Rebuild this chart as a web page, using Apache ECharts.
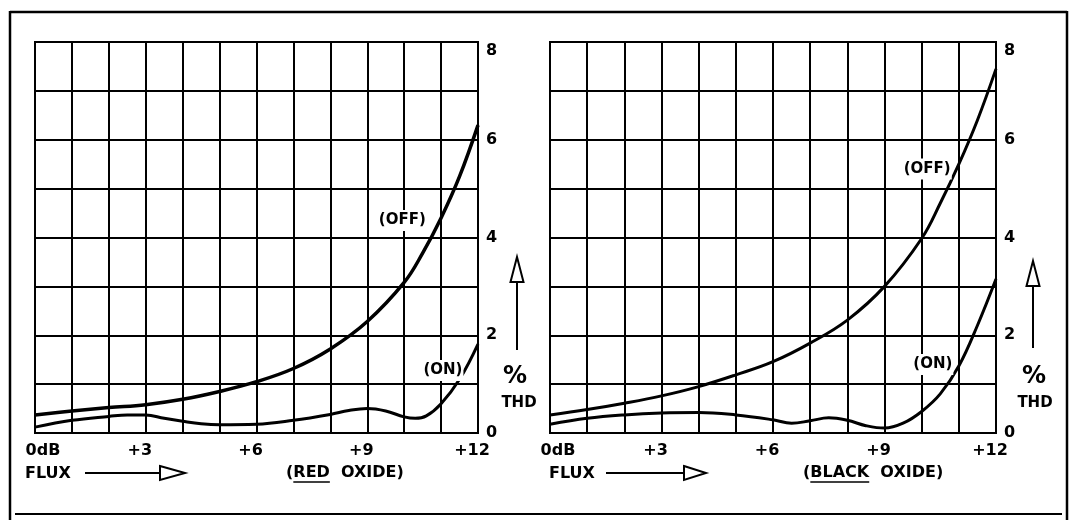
<!DOCTYPE html>
<html>
<head>
<meta charset="utf-8">
<title>% THD vs flux</title>
<script src="https://cdn.jsdelivr.net/npm/echarts@6/dist/echarts.min.js"></script>
<style>
  html, body { margin: 0; padding: 0; background: #fff; }
  #chart { width: 1074px; height: 520px; }
</style>
</head>
<body>
<div id="chart"></div>
<script>
// x = flux above 0 dB reference, y = % THD
const redOffX = [0, 1, 2, 3, 4, 5, 6, 7, 8, 9, 10, 10.5, 11, 11.5, 12];
const redOffY = [0.37, 0.45, 0.52, 0.58, 0.69, 0.85, 1.05, 1.32, 1.72, 2.28, 3.08, 3.68, 4.4, 5.25, 6.3];
const redOnX = [0, 1, 2, 2.5, 3, 3.5, 4, 4.5, 5, 6, 7, 8, 8.5, 9, 9.5, 10, 10.3, 10.6, 11, 11.5, 12];
const redOnY = [0.12, 0.26, 0.34, 0.37, 0.37, 0.3, 0.24, 0.19, 0.17, 0.18, 0.26, 0.38, 0.46, 0.5, 0.45, 0.33, 0.3, 0.35, 0.6, 1.1, 1.82];

const blackOffX = [0, 1, 2, 3, 4, 5, 6, 7, 8, 9, 10, 10.5, 11, 11.5, 12];
const blackOffY = [0.37, 0.48, 0.61, 0.76, 0.95, 1.19, 1.46, 1.84, 2.31, 3.0, 3.98, 4.7, 5.5, 6.4, 7.45];
const blackOnX = [0, 1, 2, 3, 4, 5, 6, 6.5, 7, 7.5, 8, 8.5, 9, 9.5, 10, 10.5, 11, 11.5, 12];
const blackOnY = [0.18, 0.3, 0.37, 0.41, 0.42, 0.37, 0.27, 0.2, 0.25, 0.31, 0.26, 0.15, 0.1, 0.2, 0.44, 0.8, 1.37, 2.2, 3.15];

// tick labels
const xLabelValues = [0, 3, 6, 9, 12];
const xLabelTexts = ['0dB', '+3', '+6', '+9', '+12'];
const yLabelValues = [0, 2, 4, 6, 8];

// curve tags: [x, y] in data units
const redOffTag = [9.95, 4.35];
const redOnTag = [11.05, 1.28];
const blackOffTag = [10.15, 5.4];
const blackOnTag = [10.3, 1.4];

const FONT = '"DejaVu Sans", sans-serif';
const INK = '#000';

function pairs(xs, ys) {
  return xs.map((x, i) => [x, ys[i]]);
}

function curve(name, gi, xs, ys, width, tag) {
  return {
    name: name,
    type: 'line',
    xAxisIndex: gi,
    yAxisIndex: gi,
    data: pairs(xs, ys),
    smooth: 0.4,
    showSymbol: false,
    silent: true,
    lineStyle: { color: INK, width: width },
    markPoint: {
      symbolSize: 0,
      silent: true,
      data: [{ coord: tag }],
      label: {
        show: true,
        position: 'inside',
        formatter: '(' + name + ')',
        color: INK,
        fontFamily: FONT,
        fontWeight: 'bold',
        fontSize: 15,
        backgroundColor: '#fff',
        padding: [3, 1]
      }
    }
  };
}

function xAxis(gi) {
  return {
    type: 'value', gridIndex: gi, min: 0, max: 12, interval: 1,
    axisLine: { show: true, lineStyle: { color: INK, width: 2 } },
    axisTick: { show: false },
    splitLine: { show: true, lineStyle: { color: INK, width: 2 } },
    axisLabel: {
      margin: 10,
      color: INK, fontFamily: FONT, fontWeight: 'bold', fontSize: 16,
      formatter: function (v) {
        const k = xLabelValues.indexOf(v);
        if (k < 0) return '';
        return (k === 0 ? '{first|' : '{lab|') + xLabelTexts[k] + '}';
      },
      rich: {
        first: { fontFamily: FONT, fontWeight: 'bold', fontSize: 16, color: INK, padding: [0, 0, 0, 16] },
        lab: { fontFamily: FONT, fontWeight: 'bold', fontSize: 16, color: INK, padding: [0, 12, 0, 0] }
      }
    }
  };
}

function yAxis(gi) {
  return {
    type: 'value', gridIndex: gi, position: 'right', min: 0, max: 8, interval: 1,
    axisLine: { show: true, lineStyle: { color: INK, width: 2 } },
    axisTick: { show: false },
    splitLine: { show: true, lineStyle: { color: INK, width: 2 } },
    axisLabel: {
      margin: 8,
      color: INK, fontFamily: FONT, fontWeight: 'bold', fontSize: 16,
      formatter: function (v) {
        if (yLabelValues.indexOf(v) < 0) return '';
        return v === 8 ? '{top|8}' : String(v);
      },
      rich: {
        top: { fontFamily: FONT, fontWeight: 'bold', fontSize: 16, color: INK, padding: [18, 0, 0, 0] }
      }
    }
  };
}

// text widths, used to put the underline under RED / BLACK
const measure = document.createElement('canvas').getContext('2d');
measure.font = 'bold 16px "DejaVu Sans"';
function tw(s) { return measure.measureText(s).width; }

function label(x, y, text, size, align) {
  return {
    type: 'text', x: x, y: y, silent: true,
    style: {
      text: text, fill: INK, font: 'bold ' + (size || 16) + 'px ' + FONT,
      align: align || 'left', verticalAlign: 'middle'
    }
  };
}

function seg(x1, y1, x2, y2, w) {
  return {
    type: 'line', silent: true,
    shape: { x1: x1, y1: y1, x2: x2, y2: y2 },
    style: { stroke: INK, lineWidth: w || 2 }
  };
}

function rightArrow(x1, xBack, xTip, y) {
  return [
    seg(x1, y, xBack, y, 2),
    { type: 'polygon', silent: true,
      shape: { points: [[xBack, y - 7], [xTip, y], [xBack, y + 7]] },
      style: { fill: '#fff', stroke: INK, lineWidth: 2 } }
  ];
}

function upArrow(x, yTip, yBase, yEnd) {
  return [
    seg(x, yBase, x, yEnd, 2),
    { type: 'polygon', silent: true,
      shape: { points: [[x - 6.5, yBase], [x, yTip], [x + 6.5, yBase]] },
      style: { fill: '#fff', stroke: INK, lineWidth: 2 } }
  ];
}

function oxideTitle(x, y, word) {
  const wOpen = tw('(');
  const wWord = tw(word);
  const wGap = tw('  ');
  return [
    label(x, y, '(', 16),
    label(x + wOpen, y, word, 16),
    label(x + wOpen + wWord + wGap, y, 'OXIDE)', 16),
    seg(x + wOpen, y + 9, x + wOpen + wWord, y + 9, 1.6)
  ];
}

const graphics = [].concat(
  // outer frame
  [seg(10, 12, 1067, 12, 2.5), seg(10, 11, 10, 520, 2.5), seg(1067, 11, 1067, 520, 2.5), seg(15, 514, 1062, 514, 2)],
  // left panel
  [label(25, 474, 'FLUX')], rightArrow(85, 160, 185, 473), oxideTitle(286, 473, 'RED'),
  upArrow(517, 257, 282, 350), [label(515, 377, '%', 24, 'center'), label(519, 403, 'THD', 15, 'center')],
  // right panel
  [label(549, 474, 'FLUX')], rightArrow(606, 684, 706, 473), oxideTitle(803, 473, 'BLACK'),
  upArrow(1033, 261, 286, 348), [label(1034, 377, '%', 24, 'center'), label(1035, 403, 'THD', 15, 'center')]
);

const chart = echarts.init(document.getElementById('chart'), null, { renderer: 'canvas' });
chart.setOption({
  backgroundColor: '#fff',
  animation: false,
  textStyle: { fontFamily: FONT },
  grid: [
    { left: 35, right: 596, top: 42, bottom: 87, show: true, borderColor: INK, borderWidth: 2 },
    { left: 550, right: 78, top: 42, bottom: 87, show: true, borderColor: INK, borderWidth: 2 }
  ],
  xAxis: [xAxis(0), xAxis(1)],
  yAxis: [yAxis(0), yAxis(1)],
  series: [
    curve('OFF', 0, redOffX, redOffY, 3.5, redOffTag),
    curve('ON', 0, redOnX, redOnY, 3, redOnTag),
    curve('OFF', 1, blackOffX, blackOffY, 3, blackOffTag),
    curve('ON', 1, blackOnX, blackOnY, 3, blackOnTag)
  ],
  graphic: graphics
});
</script>
</body>
</html>
